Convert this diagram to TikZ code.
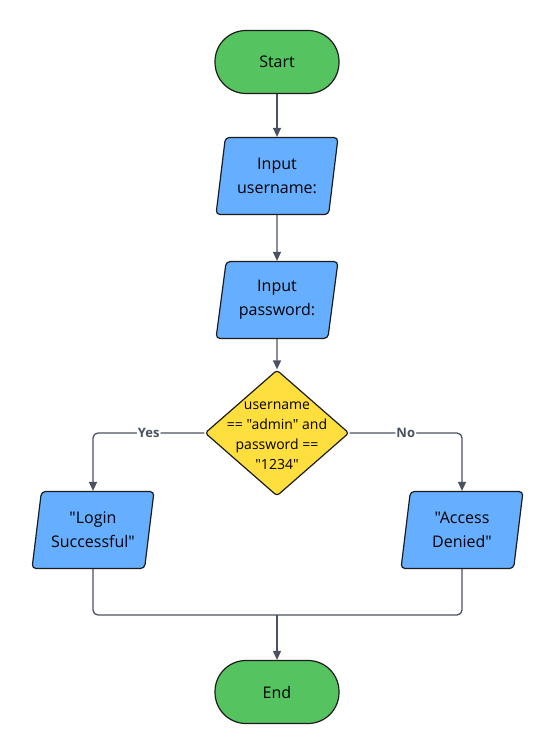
\documentclass[tikz,border=0pt]{standalone}
\usepackage{fontspec}
\setmainfont{Open Sans}[Ligatures=TeXOff]
\usetikzlibrary{shapes.geometric,arrows.meta}
\definecolor{termgreen}{HTML}{55C35F}
\definecolor{iofill}{HTML}{66AEFF}
\definecolor{decyellow}{HTML}{FFDF3D}
\definecolor{edgegray}{HTML}{4A5161}
\definecolor{bordergray}{HTML}{1C1C1C}
\begin{document}
\begin{tikzpicture}[x=1pt,y=-1pt,
  terminal/.style={draw=bordergray, line width=1.2pt, fill=termgreen, rectangle, rounded corners=31pt,
    minimum width=124pt, minimum height=63pt, font=\fontsize{16}{20}\selectfont},
  iobox/.style={draw=bordergray, line width=1.2pt, fill=iofill, trapezium, trapezium left angle=77.5,
    trapezium right angle=102.5, trapezium stretches body, rounded corners=4pt,
    minimum width=122pt, minimum height=77pt, align=center, font=\fontsize{16}{24}\selectfont},
  decision/.style={draw=bordergray, line width=1.2pt, fill=decyellow, diamond, rounded corners=3pt,
    minimum width=144pt, minimum height=126pt, inner sep=0pt},
  conn/.style={draw=edgegray, line width=1.3pt},
  arr/.style={conn, -{Triangle[width=8pt,length=9pt]}},
  lab/.style={fill=white, inner sep=1pt, text=edgegray, font=\fontsize{13}{15}\selectfont\bfseries}
]
\useasboundingbox (0,0) rectangle (554,754);
\node[terminal] (start) at (277,62) {Start};
\node[iobox] (user) at (277,176) {Input\\username:};
\node[iobox] (pass) at (277,300) {Input\\password:};
\node[decision, label={[align=center, yshift=-3pt, font=\fontsize{14}{20}\selectfont]center:username\\== "admin" and\\password ==\\"1234"}] (dec) at (277,433) {};
\node[iobox] (ok) at (93,530) {"Login\\Successful"};
\node[iobox] (deny) at (462,530) {"Access\\Denied"};
\node[terminal] (end) at (277,692) {End};
\coordinate (merge) at (277,615);
\draw[arr] (start) -- (user);
\draw[arr] (user) -- (pass);
\draw[arr] (pass) -- (dec);
\draw[arr, rounded corners=5pt] (dec.west) -| node[pos=0.25, lab] {Yes} (ok.north);
\draw[arr, rounded corners=5pt] (dec.east) -| node[pos=0.25, lab] {No} (deny.north);
\draw[conn, rounded corners=5pt] (ok.south) |- (merge) -| (deny.south);
\draw[arr] (merge) -- (end);
\end{tikzpicture}
\end{document}
